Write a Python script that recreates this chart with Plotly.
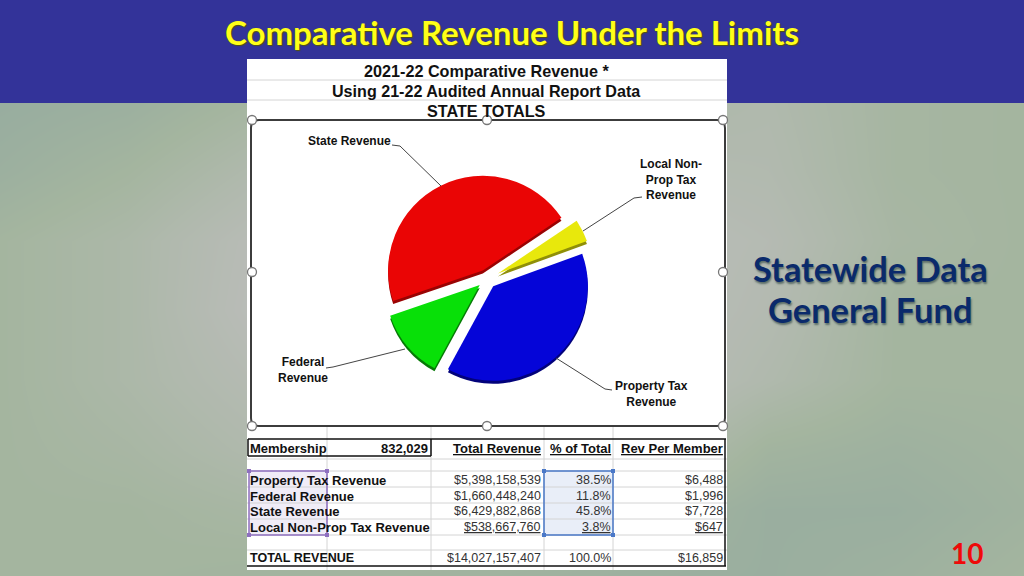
import plotly.graph_objects as go

W, H = 1024, 576

# ---- data ----
revenue_sources = ["Property Tax Revenue", "Federal Revenue", "State Revenue", "Local Non-Prop Tax Revenue"]
total_revenue = [5398158539, 1660448240, 6429882868, 538667760]
total_revenue_labels = ["$5,398,158,539", "$1,660,448,240", "$6,429,882,868", "$538,667,760"]
pct_of_total = ["38.5%", "11.8%", "45.8%", "3.8%"]
rev_per_member = ["$6,488", "$1,996", "$7,728", "$647"]
slice_pull = [0.10, 0.10, 0.10, 0.13]
front_colors = ["#0505d8", "#08e008", "#ea0505", "#e8e80c"]
depth_colors = ["#02027a", "#067a06", "#990303", "#8f8f08"]

bg_x = [0, 128, 256, 384, 512, 640, 768, 896, 1024]
bg_y = [103, 170, 240, 310, 380, 450, 510, 576]
bg_z = [
    [0.00, 0.10, 0.35, 0.50, 0.5, 0.5, 0.60, 0.35, 0.30],
    [0.10, 0.30, 0.60, 0.70, 0.7, 0.7, 0.65, 0.35, 0.30],
    [0.30, 0.50, 0.85, 0.90, 0.9, 0.9, 0.75, 0.40, 0.30],
    [0.30, 0.50, 0.90, 0.95, 0.9, 0.9, 0.70, 0.30, 0.30],
    [0.30, 0.50, 0.75, 0.85, 0.9, 0.9, 0.60, 0.30, 0.30],
    [0.30, 0.40, 0.60, 0.70, 0.7, 0.7, 0.25, 0.15, 0.25],
    [0.30, 0.30, 0.40, 0.40, 0.4, 0.3, 0.05, 0.05, 0.20],
    [0.30, 0.30, 0.25, 0.25, 0.2, 0.1, 0.05, 0.15, 0.30],
]

SANS = "Liberation Sans"
LATO = "Lato"


def rect(x0, y0, x1, y1, color):
    return go.Scatter(x=[x0, x1, x1, x0, x0], y=[y0, y0, y1, y1, y0], mode="lines", fill="toself",
                      fillcolor=color, line=dict(width=0, color=color), hoverinfo="skip", showlegend=False)


fig = go.Figure()
fig.add_trace(go.Heatmap(x=bg_x, y=bg_y, z=bg_z, zsmooth="best", showscale=False, hoverinfo="skip", zmin=0, zmax=1,
                         colorscale=[[0, "#98ad9f"], [0.3, "#a4b59f"], [0.6, "#b0b9ad"], [1, "#bdbdbc"]]))
fig.add_trace(rect(0, 0, W, 103, "#333399"))
fig.add_trace(rect(247, 59, 727, 570, "#ffffff"))
fig.add_trace(rect(544, 471, 613, 535, "#e9eef8"))
fig.add_trace(rect(249, 471, 327, 535, "#f0ecf7"))


def pie_domain(cx, cy, r):
    return dict(x=[(cx - r) / W, (cx + r) / W], y=[1 - (cy + r) / H, 1 - (cy - r) / H])


PIE_R = 107
for dy, colors in ((3, depth_colors), (0, front_colors)):
    fig.add_trace(go.Pie(values=total_revenue, labels=revenue_sources, sort=False, direction="clockwise",
                         rotation=70, pull=slice_pull, textinfo="none", hoverinfo="label+percent",
                         showlegend=False, domain=pie_domain(487, 279 + dy, PIE_R),
                         marker=dict(colors=colors, line=dict(width=0))))

shapes = []


def line(x0, y0, x1, y1, color="#d4d4d4", width=1):
    shapes.append(dict(type="line", xref="x", yref="y", x0=x0, y0=y0, x1=x1, y1=y1,
                       line=dict(color=color, width=width)))


def leader(points, color="#444444"):
    for (a, b), (c, d) in zip(points, points[1:]):
        line(a, b, c, d, color, 1)


# sheet cell grid above and below the chart
for yy in (80, 100, 459, 471, 487, 503, 519, 535, 550):
    line(247, yy, 727, yy)
for xx in (327, 431, 544, 613):
    line(xx, 427, xx, 570)

# chart frame with rounded corners
fx0, fy0, fx1, fy1, c = 251, 120, 725, 426, 8
frame = (f"M {fx0 + c} {fy0} L {fx1 - c} {fy0} Q {fx1} {fy0} {fx1} {fy0 + c} L {fx1} {fy1 - c} "
         f"Q {fx1} {fy1} {fx1 - c} {fy1} L {fx0 + c} {fy1} Q {fx0} {fy1} {fx0} {fy1 - c} "
         f"L {fx0} {fy0 + c} Q {fx0} {fy0} {fx0 + c} {fy0} Z")
shapes.append(dict(type="path", xref="x", yref="y", path=frame, line=dict(color="#3c3c3c", width=2)))

# leaders
leader([(392, 145), (400, 146), (441, 186)])
leader([(642, 197), (634, 198), (583, 231)])
leader([(326, 368), (333, 367), (405, 349)])
leader([(612, 390), (605, 389), (556, 358)])

# table borders
line(248, 439, 726, 439, "#111111", 1.5)
line(248, 456, 431, 456, "#111111", 1.5)
line(431, 439, 431, 456, "#111111", 1.5)
line(248, 439, 248, 456, "#111111", 1.5)
line(725, 439, 725, 566, "#111111", 1.5)
line(247, 566, 726, 566, "#111111", 1.5)

# selection boxes
shapes.append(dict(type="rect", xref="x", yref="y", x0=249, y0=471, x1=327, y1=535,
                   line=dict(color="#8e6fc0", width=1.5)))
shapes.append(dict(type="rect", xref="x", yref="y", x0=544, y0=471, x1=613, y1=535,
                   line=dict(color="#4a78c8", width=1.5)))
for (hx, hy, col) in [(249, 471, "#8e6fc0"), (327, 471, "#8e6fc0"), (249, 535, "#8e6fc0"), (327, 535, "#8e6fc0"),
                      (544, 471, "#4a78c8"), (613, 471, "#4a78c8"), (544, 535, "#4a78c8"), (613, 535, "#4a78c8")]:
    shapes.append(dict(type="rect", xref="x", yref="y", x0=hx - 2, y0=hy - 2, x1=hx + 2, y1=hy + 2,
                       fillcolor=col, line=dict(width=0)))

# chart handles
for (hx, hy) in [(252, 120), (487, 120), (723, 120), (252, 272), (723, 272), (252, 426), (487, 426), (723, 426)]:
    shapes.append(dict(type="circle", xref="x", yref="y", x0=hx - 4.5, y0=hy - 4.5, x1=hx + 4.5, y1=hy + 4.5,
                       fillcolor="#ffffff", line=dict(color="#777777", width=1.3)))

ann = []


def text(x, y, s, size, color="#111111", family=SANS, bold=True, anchor="left", shadow=None):
    f = dict(size=size, color=color, family=family, weight="bold" if bold else "normal")
    if shadow:
        f["shadow"] = shadow
    if anchor == "left":
        x -= 2
    elif anchor == "right":
        x += 2
    ann.append(dict(x=x, y=y, xref="x", yref="y", text=s, showarrow=False, xanchor=anchor, yanchor="middle",
                    font=f, align="center"))


text(512, 32, "Comparative Revenue Under the Limits", 33, "#ffff19", LATO, True, "center", "1px 1px 1px #55550a")
text(486, 71, "2021-22 Comparative Revenue *", 16.2, anchor="center")
text(486, 91, "Using 21-22 Audited Annual Report Data", 16.1, anchor="center")
text(486, 111, "STATE TOTALS", 16.2, anchor="center")

text(349, 141, "State Revenue", 12, anchor="center")
text(671, 179, "Local Non-<br>Prop Tax<br>Revenue", 12, anchor="center")
text(303, 370, "Federal<br>Revenue", 12, anchor="center")
text(651, 394, "Property Tax<br>Revenue", 12, anchor="center")

text(250, 448, "Membership", 13)
text(428, 448, "832,029", 13, anchor="right")
text(541, 448, "<u>Total Revenue</u>", 13, anchor="right")
text(611, 448, "<u>% of Total</u>", 13, anchor="right")
text(723, 448, "<u>Rev Per Member</u>", 13, anchor="right")

row_y = [480, 496, 511, 527]
for yy, name, rv, p, m, last in zip(row_y, revenue_sources, total_revenue_labels, pct_of_total, rev_per_member,
                                    [False, False, False, True]):
    wrap = (lambda s: f"<u>{s}</u>") if last else (lambda s: s)
    text(250, yy, name, 13)
    text(541, yy, wrap(rv), 12.5, "#333333", bold=False, anchor="right")
    text(611, yy, wrap(p), 12.5, "#333333", bold=False, anchor="right")
    text(723, yy, wrap(m), 12.5, "#333333", bold=False, anchor="right")

text(250, 558, "TOTAL REVENUE", 12.5)
text(541, 558, "$14,027,157,407", 12.5, "#333333", bold=False, anchor="right")
text(611, 558, "100.0%", 12.5, "#333333", bold=False, anchor="right")
text(723, 558, "$16,859", 12.5, "#333333", bold=False, anchor="right")

text(870, 268, "Statewide Data", 34.4, "#0a2a6b", LATO, True, "center", "1px 2px 2px #5d6f6a")
text(870, 309, "General Fund", 34.4, "#0a2a6b", LATO, True, "center", "1px 2px 2px #5d6f6a")
text(967, 553, "10", 28, "#ee0a0a", LATO, True, "center")

fig.update_layout(
    width=W, height=H, margin=dict(l=0, r=0, t=0, b=0), paper_bgcolor="#a5b59f", plot_bgcolor="#a5b59f",
    xaxis=dict(range=[0, W], visible=False, fixedrange=True),
    yaxis=dict(range=[H, 0], visible=False, fixedrange=True),
    shapes=shapes, annotations=ann, showlegend=False,
)

fig.write_html("out.html", config=dict(displayModeBar=False),
               post_script="document.body.style.margin='0';document.documentElement.style.overflow='hidden';")
